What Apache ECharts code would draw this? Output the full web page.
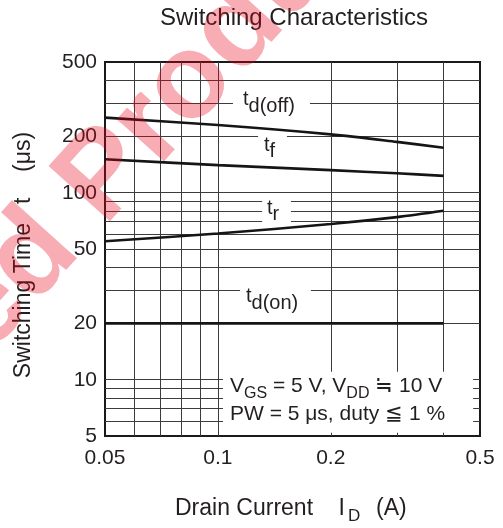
<!DOCTYPE html>
<html><head><meta charset="utf-8">
<script src="https://cdn.jsdelivr.net/npm/echarts@6/dist/echarts.min.js"></script>
<style>html,body{margin:0;padding:0;background:#fff}#c{width:503px;height:528px}</style>
</head><body><div id="c"></div>
<script>
// ---- data ----
const drainCurrent = [0.05, 0.1, 0.2, 0.3, 0.4];
const tdOff = [252, 230, 205, 187, 174];
const tFall = [151, 140.5, 132, 127, 123];
const tRise = [55, 60.5, 68, 74, 80];
const tdOn = [20, 20, 20, 20, 20];
const xTickLabels = [0.05, 0.1, 0.2, 0.5];
const yTickLabels = [5, 10, 20, 50, 100, 200, 500];
const xGridValues = [0.06, 0.07, 0.08, 0.09, 0.1, 0.2, 0.3, 0.4];
const yGridValues = [6, 7, 8, 9, 10, 20, 30, 40, 50, 60, 70, 80, 90, 100, 200, 300, 400];

const FONT = '"Liberation Sans", Arial, Helvetica, sans-serif';
const INK = '#231f20';
const mctx = document.createElement('canvas').getContext('2d');
function tw(s, size) { mctx.font = size + 'px ' + FONT; return mctx.measureText(s).width; }
// text runs on a baseline: parts [{t, s, dy, dx}]
function runs(x, base, parts, z) {
  const out = []; let cx = x;
  parts.forEach(p => {
    cx += (p.dx || 0);
    out.push({ type: 'text', x: cx, y: base + (p.dy || 0) - 0.35 * p.s, z: z || 5,
      style: { text: p.t, fill: INK, font: p.s + 'px ' + FONT, align: 'left', verticalAlign: 'middle' } });
    cx += tw(p.t, p.s);
  });
  return out;
}
function pairs(ys) { return drainCurrent.map((x, i) => [x, ys[i]]); }

const chart = echarts.init(document.getElementById('c'), null, { renderer: 'canvas' });
const lineStyle = { color: '#151515', width: 2.6 };
chart.setOption({
  animation: false,
  backgroundColor: '#fff',
  title: { text: 'Switching Characteristics', left: 289, top: 1, textAlign: 'center',
    textStyle: { fontFamily: FONT, fontSize: 24, fontWeight: 'normal', color: INK } },
  grid: { left: 105, right: 23, top: 62, bottom: 92, show: true, borderColor: '#1a1a1a', borderWidth: 2, backgroundColor: 'transparent' },
  xAxis: { type: 'log', logBase: 10, min: 0.05, max: 0.5,
    axisLine: { show: false }, axisTick: { show: false, customValues: xGridValues },
    axisLabel: { customValues: xTickLabels, margin: 12, fontFamily: FONT, fontSize: 21, color: INK, formatter: v => String(v) },
    splitLine: { show: true, lineStyle: { color: '#3c3c3c', width: 1 } } },
  yAxis: { type: 'log', logBase: 10, min: 5, max: 500,
    axisLine: { show: false }, axisTick: { show: false, customValues: yGridValues },
    axisLabel: { customValues: yTickLabels, margin: 8, fontFamily: FONT, fontSize: 21, color: INK, formatter: v => String(v) },
    splitLine: { show: true, lineStyle: { color: '#3c3c3c', width: 1 } } },
  series: [
    { name: 'td(off)', type: 'line', data: pairs(tdOff), showSymbol: false, smooth: 0.3, lineStyle, z: 3 },
    { name: 'tf', type: 'line', data: pairs(tFall), showSymbol: false, smooth: 0.3, lineStyle, z: 3 },
    { name: 'tr', type: 'line', data: pairs(tRise), showSymbol: false, smooth: 0.3, lineStyle, z: 3 },
    { name: 'td(on)', type: 'line', data: pairs(tdOn), showSymbol: false, lineStyle, z: 3 }
  ]
});

// white gaps in the grid where the labels sit: [x1, x2, yLow, yHigh] in data units
const gaps = [[0.1097, 0.176, 270, 330], [0.128, 0.1528, 190, 210], [0.1312, 0.1566, 66, 95], [0.1146, 0.177, 27, 33], [0.1032, 0.4796, 5.2, 11.04]];
const g = [];
gaps.forEach(r => {
  const a = chart.convertToPixel({ gridIndex: 0 }, [r[0], r[3]]);
  const b = chart.convertToPixel({ gridIndex: 0 }, [r[1], r[2]]);
  g.push({ type: 'rect', z: 1, shape: { x: a[0], y: a[1], width: b[0] - a[0], height: b[1] - a[1] }, style: { fill: '#fff' } });
});
g.push(...runs(243, 106, [{ t: 't', s: 20 }, { t: 'd(off)', s: 20, dy: 7 }]));
g.push(...runs(264, 152, [{ t: 't', s: 20 }, { t: 'f', s: 20, dy: 6 }]));
g.push(...runs(267, 215, [{ t: 't', s: 20 }, { t: 'r', s: 20, dy: 6 }]));
g.push(...runs(246, 303, [{ t: 't', s: 20 }, { t: 'd(on)', s: 20, dy: 7 }]));
g.push(...runs(230, 394, [{ t: 'V', s: 21 }, { t: 'GS', s: 16, dy: 5 }, { t: ' = 5 V, V', s: 21 }, { t: 'DD', s: 16, dy: 5 }, { t: ' \u2252 10 V', s: 21 }]));
g.push(...runs(230, 422, [{ t: 'PW = 5 \u03bcs, duty \u2266 1 %', s: 21 }]));
// axis names
g.push(...runs(175, 517, [{ t: 'Drain Current    I', s: 23 }, { t: 'D', s: 17, dy: 5, dx: 3 }, { t: '  (A)', s: 23, dx: 3 }]));
g.push({ type: 'text', x: 24, y: 255, rotation: Math.PI / 2, z: 5,
  style: { text: 'Switching Time   t    (\u03bcs)', fill: INK, font: '23px ' + FONT, align: 'center', verticalAlign: 'middle' } });
// watermark
const wmRot = 48 * Math.PI / 180;
const wmFill = 'rgba(230,0,18,0.32)';
g.push({ type: 'text', x: 80, y: 205, rotation: wmRot, z: 50,
  style: { text: 'Discontinued ', fill: wmFill, font: 'bold 120px ' + FONT, align: 'right', verticalAlign: 'middle' } });
g.push({ type: 'text', x: 80, y: 205, rotation: wmRot, z: 50,
  style: { text: 'Product', fill: wmFill, font: 'bold 120px ' + FONT, align: 'left', verticalAlign: 'middle' } });
chart.setOption({ graphic: g });
</script></body></html>
